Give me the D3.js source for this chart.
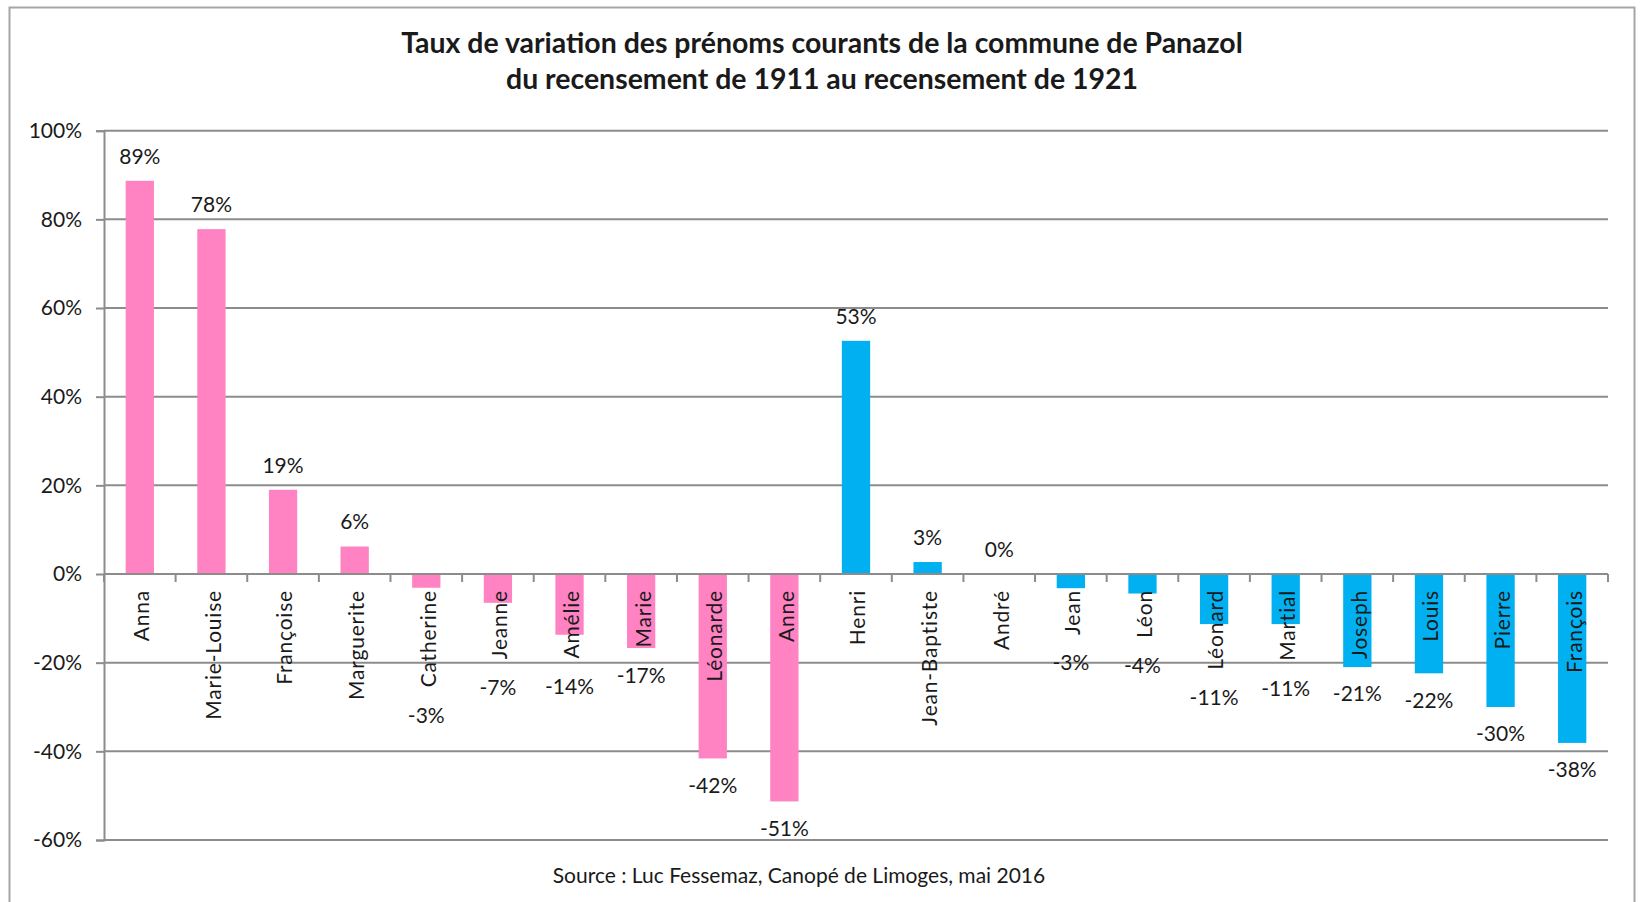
<!DOCTYPE html>
<html>
<head>
<meta charset="utf-8">
<script src="https://cdn.jsdelivr.net/npm/d3@7"></script>
<style>
  body { margin: 0; background: #fff; }
  text { font-family: Lato, "Open Sans", sans-serif; fill: #1a1a1a; }
</style>
</head>
<body>
<div id="chart"></div>
<script>
const prenoms = ["Anna", "Marie-Louise", "Françoise", "Marguerite", "Catherine", "Jeanne", "Amélie", "Marie",
  "Léonarde", "Anne", "Henri", "Jean-Baptiste", "André", "Jean", "Léon", "Léonard", "Martial", "Joseph",
  "Louis", "Pierre", "François"];
const taux = [0.887, 0.778, 0.19, 0.062, -0.031, -0.065, -0.137, -0.167, -0.416, -0.513, 0.526, 0.027, 0,
  -0.032, -0.044, -0.113, -0.113, -0.21, -0.224, -0.30, -0.381];
const sexe = ["F", "F", "F", "F", "F", "F", "F", "F", "F", "F", "H", "H", "H", "H", "H", "H", "H", "H", "H", "H", "H"];
const yTicks = [-0.6, -0.4, -0.2, 0, 0.2, 0.4, 0.6, 0.8, 1];
const titre = ["Taux de variation des prénoms courants de la commune de Panazol",
  "du recensement de 1911 au recensement de 1921"];
const source = "Source : Luc Fessemaz, Canopé de Limoges, mai 2016";

const width = 1641, height = 902;
const colors = { F: "#ff82c2", H: "#00b0f0" };
const pct = d3.formatLocale({ decimal: ".", thousands: ",", grouping: [3], currency: ["", ""], minus: "-" })
  .format(".0%");

const svg = d3.select("#chart").append("svg")
  .attr("width", width)
  .attr("height", height);

// cadre du graphique
svg.append("rect")
  .attr("x", 9.5).attr("y", 7.5)
  .attr("width", 1625).attr("height", 1000)
  .attr("fill", "none")
  .attr("stroke", "#a6a6a6")
  .attr("stroke-width", 2);

const x = d3.scaleBand()
  .domain(prenoms)
  .range([104, 1608])
  .paddingInner(0.605)
  .paddingOuter(0.3025);

const y = d3.scaleLinear()
  .domain([-0.6, 1])
  .range([840, 130.7]);

// grille + axe Y
const yAxis = svg.append("g")
  .attr("transform", "translate(104,0)")
  .call(d3.axisLeft(y).tickValues(yTicks).tickFormat(pct).tickSize(8).tickPadding(14));
yAxis.select(".domain").attr("stroke", "#8c8c8c").attr("stroke-width", 2);
yAxis.selectAll(".tick line").attr("stroke", "#8c8c8c").attr("stroke-width", 2);
yAxis.selectAll(".tick text")
  .style("font-size", "21px")
  .style("font-family", "Lato, sans-serif")
  .attr("fill", "#1a1a1a");

svg.append("g")
  .selectAll("line")
  .data(yTicks)
  .join("line")
  .attr("x1", 104).attr("x2", 1608)
  .attr("y1", d => y(d)).attr("y2", d => y(d))
  .attr("stroke", "#8c8c8c")
  .attr("stroke-width", 2);

// barres
svg.append("g")
  .selectAll("rect")
  .data(prenoms)
  .join("rect")
  .attr("x", d => x(d))
  .attr("width", x.bandwidth())
  .attr("y", (d, i) => y(Math.max(0, taux[i])))
  .attr("height", (d, i) => Math.abs(y(taux[i]) - y(0)))
  .attr("fill", (d, i) => colors[sexe[i]]);

// axe des catégories sur la ligne 0
const step = x.step();
const xAxis = svg.append("g");
xAxis.append("line")
  .attr("x1", 104).attr("x2", 1608)
  .attr("y1", y(0)).attr("y2", y(0))
  .attr("stroke", "#8c8c8c").attr("stroke-width", 2);
xAxis.selectAll("line.tick")
  .data(d3.range(prenoms.length + 1))
  .join("line")
  .attr("class", "tick")
  .attr("x1", i => 104 + i * step).attr("x2", i => 104 + i * step)
  .attr("y1", y(0)).attr("y2", y(0) + 8)
  .attr("stroke", "#8c8c8c").attr("stroke-width", 2);

const catTop = y(0) + 16;
const catLabels = svg.append("g")
  .selectAll("text")
  .data(prenoms)
  .join("text")
  .attr("transform", d => `translate(${x(d) + x.bandwidth() / 2 + 2},${catTop}) rotate(-90)`)
  .attr("text-anchor", "end")
  .attr("dy", "0.35em")
  .style("font-size", "21px")
  .style("letter-spacing", "0.8px")
  .text(d => d);

const catEnd = [];
catLabels.each(function () { catEnd.push(catTop + this.getComputedTextLength()); });

// étiquettes de valeurs
svg.append("g")
  .selectAll("text")
  .data(prenoms)
  .join("text")
  .attr("x", d => x(d) + x.bandwidth() / 2)
  .attr("y", (d, i) => taux[i] >= 0
    ? y(taux[i]) - 24.5
    : Math.max(y(taux[i]) + 27, catEnd[i] + 28))
  .attr("dy", "0.35em")
  .attr("text-anchor", "middle")
  .style("font-size", "21px")
  .text((d, i) => pct(taux[i]));

// titre
const t = svg.append("g");
titre.forEach((line, i) => {
  t.append("text")
    .attr("x", 822)
    .attr("y", 53 + i * 36)
    .attr("text-anchor", "middle")
    .style("font-size", "24px")
    .style("font-weight", "bold")
    .text(line);
});
// ajuste la largeur de la première ligne du titre (~842 px)
const first = t.select("text").node();
const k = 842 / first.getComputedTextLength();
t.selectAll("text").style("font-size", (24 * k) + "px");

svg.append("text")
  .attr("x", 799)
  .attr("y", 883)
  .attr("text-anchor", "middle")
  .style("font-size", "21px")
  .text(source);
</script>
</body>
</html>
